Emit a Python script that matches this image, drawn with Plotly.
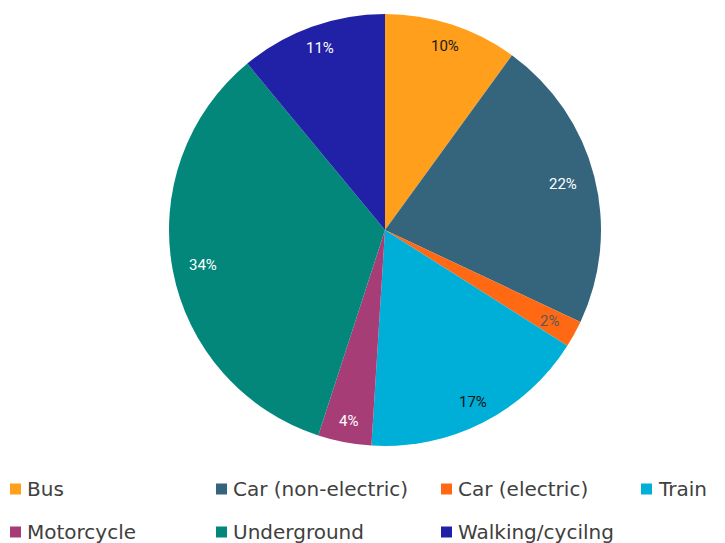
import numpy as np
import plotly.graph_objects as go

# Share of commuters by travel mode
modes = ["Bus", "Car (non-electric)", "Car (electric)", "Train",
         "Motorcycle", "Underground", "Walking/cycilng"]
shares = [10, 22, 2, 17, 4, 34, 11]

colors = ["#FF9F1C", "#35657D", "#FF6914", "#00AFD8",
          "#A63D77", "#02877A", "#2121A7"]
label_colors = ["#1A1A1A", "#FFFFFF", "#595959", "#111111",
                "#FFFFFF", "#FFFFFF", "#FFFFFF"]

W, H = 725, 543
CX, CY, R = 385, 230, 216  # pie centre and radius in pixels

fig = go.Figure(go.Pie(
    labels=modes,
    values=shares,
    sort=False,
    direction="clockwise",
    rotation=0,
    marker=dict(colors=colors, line=dict(width=0)),
    textinfo="none",
    hoverinfo="label+percent",
    showlegend=False,
    domain=dict(x=[(CX - R) / W, (CX + R) / W],
                y=[1 - (CY + R) / H, 1 - (CY - R) / H]),
))

# Percentage labels placed near the rim of each slice
radial = [0.895, 0.85, 0.87, 0.895, 0.9, 0.856, 0.895]
vals = np.array(shares, dtype=float)
cum = np.cumsum(vals) - vals / 2
mid_deg = cum / vals.sum() * 360
for i, v in enumerate(shares):
    th = np.radians(mid_deg[i])
    px = CX + radial[i] * R * np.sin(th)
    py = CY - radial[i] * R * np.cos(th)
    fig.add_annotation(
        x=px / W, y=1 - py / H, xref="paper", yref="paper",
        text=f"{round(v / vals.sum() * 100)}%", showarrow=False,
        font=dict(family="Roboto", size=15, color=label_colors[i]),
        xanchor="center", yanchor="middle",
    )

# Legend laid out in two rows below the pie
legend_cols = [10, 216, 441, 641]
legend_rows = [489, 532]
for i, name in enumerate(modes):
    row, col = divmod(i, 4)
    x0 = legend_cols[col]
    yc = legend_rows[row]
    fig.add_shape(type="rect", xref="paper", yref="paper",
                  x0=x0 / W, x1=(x0 + 11) / W,
                  y0=1 - (yc + 5.5) / H, y1=1 - (yc - 5.5) / H,
                  fillcolor=colors[i], line=dict(width=0))
    fig.add_annotation(
        x=(x0 + 15) / W, y=1 - yc / H, xref="paper", yref="paper",
        text=name, showarrow=False, xanchor="left", yanchor="middle",
        font=dict(family="DejaVu Sans", size=20, color="#404040"),
    )

fig.update_layout(
    width=W, height=H,
    margin=dict(l=0, r=0, t=0, b=0),
    paper_bgcolor="white", plot_bgcolor="white",
)

fig.write_html("out.html")
